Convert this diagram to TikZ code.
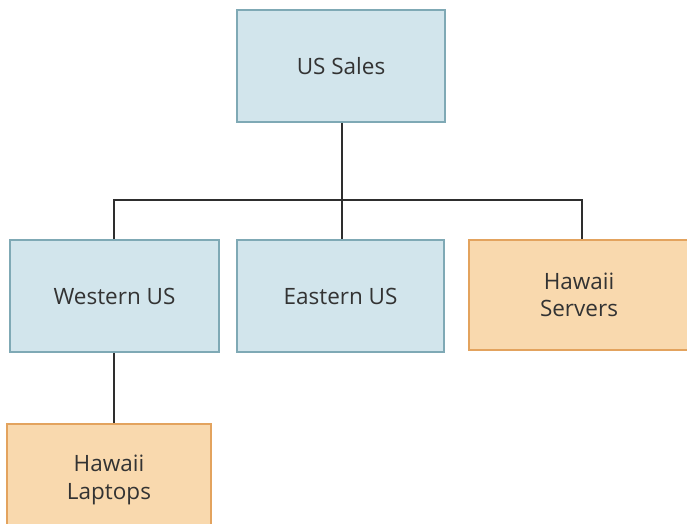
\documentclass[tikz,border=0pt]{standalone}
\usepackage{fontspec}
\setmainfont{Open Sans}
\definecolor{bluefill}{HTML}{D2E5EC}
\definecolor{blueline}{HTML}{7FA9B5}
\definecolor{orangefill}{HTML}{F9D9AE}
\definecolor{orangeline}{HTML}{E3A35E}
\definecolor{linkcol}{HTML}{2E2E2E}
\begin{document}
\begin{tikzpicture}[x=1pt,y=-1pt,
  bluebox/.style={draw=blueline,fill=bluefill,line width=1.6pt,inner sep=0pt,font=\fontsize{22.5}{27.5}\selectfont,text=black!80,align=center},
  orangebox/.style={draw=orangeline,fill=orangefill,line width=1.6pt,inner sep=0pt,font=\fontsize{22.5}{27.5}\selectfont,text=black!80,align=center},
  link/.style={draw=linkcol,line width=2.9pt}]
\useasboundingbox (0,0) rectangle (687,523);
\node[bluebox,minimum width=208pt,minimum height=112pt] (us) at (341,66) {US Sales};
\node[bluebox,minimum width=209pt,minimum height=112pt] (west) at (114.5,296) {Western US};
\node[bluebox,minimum width=207pt,minimum height=112pt] (east) at (340.5,296) {Eastern US};
\node[orangebox,minimum width=220pt,minimum height=110pt] (hs) at (579,295) {Hawaii\\Servers};
\node[orangebox,minimum width=204pt,minimum height=112pt] (hl) at (109,480) {Hawaii\\Laptops};
\coordinate (bus) at (342,200);
\draw[link] (us.south -| bus) -- (bus);
\draw[link] (west.north -| 114,0) |- (bus) -| (hs.north -| 582,0);
\draw[link] (bus) -- (east.north -| bus);
\draw[link] (west.south -| 114,0) -- (hl.north -| 114,0);
\end{tikzpicture}
\end{document}
